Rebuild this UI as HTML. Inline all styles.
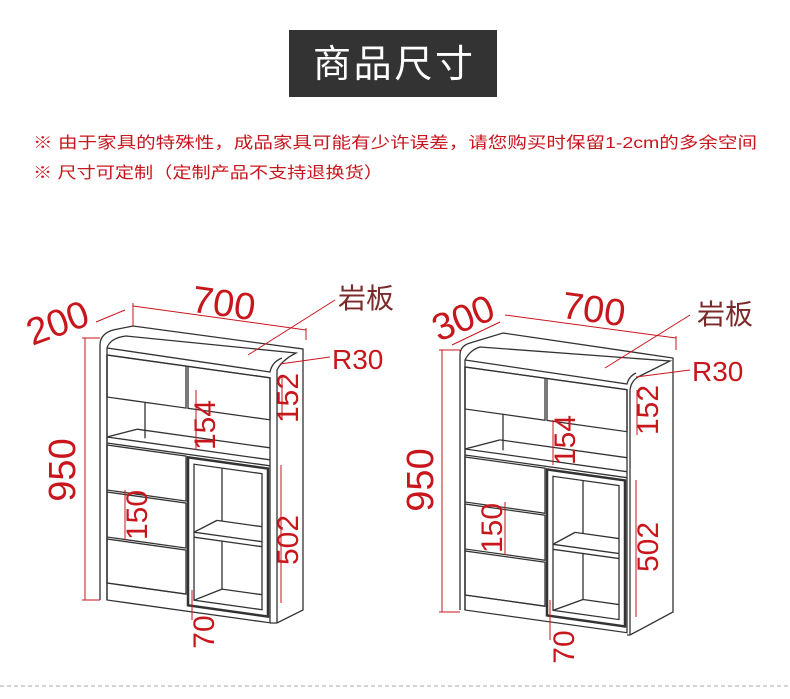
<!DOCTYPE html>
<html><head><meta charset="utf-8"><style>
html,body{margin:0;padding:0;background:#fff;}
svg{display:block;}
</style></head><body>
<svg width="790" height="699" viewBox="0 0 790 699" xmlns="http://www.w3.org/2000/svg">
<rect width="790" height="699" fill="#fff"/>
<rect x="289" y="30" width="208" height="67" fill="#333"/>
<text x="393" y="77" text-anchor="middle" font-family="Liberation Sans, Noto Sans CJK SC, sans-serif" font-size="38" fill="#fff" textLength="160">商品尺寸</text>
<g font-family="Liberation Sans, Noto Sans CJK SC, sans-serif" font-size="16" fill="#c8161d">
<text x="33" y="148" textLength="724" lengthAdjust="spacingAndGlyphs">※ 由于家具的特殊性，成品家具可能有少许误差，请您购买时保留1-2cm的多余空间</text>
<text x="33" y="178" textLength="350" lengthAdjust="spacingAndGlyphs">※ 尺寸可定制（定制产品不支持退换货）</text>
</g>
<line x1="0" y1="686" x2="790" y2="686" stroke="#aaa" stroke-dasharray="4,3"/>

<!-- LEFT CABINET -->
<g fill="none" stroke="#333" stroke-width="1.3">
<path d="M100,600 L100,345 Q100,334 113,330 L133,326 L303,349 L303,610 L277,623 L270,623" fill="#fff"/>
<path d="M107,600 L107,348 Q110,338 126,336 L296,353 Q282,360 277,370 L277,623"/>
<path d="M107,348 L270,372 Q272,362 282,358"/>
<g transform="translate(107,355) skewX(0) matrix(1,0.14,0,1,0,0)">
<rect x="0" y="0" width="163" height="245"/>
<rect x="0" y="0" width="79" height="42"/><rect x="81" y="0" width="82" height="42"/>
<line x1="38" y1="42" x2="38" y2="78"/><line x1="0" y1="82" x2="163" y2="82"/><line x1="0" y1="88" x2="163" y2="88"/>
<line x1="0" y1="82" x2="30" y2="70"/><line x1="30" y1="70" x2="163" y2="70"/>
<rect x="0" y="90" width="79" height="45"/><rect x="0" y="137" width="79" height="45"/><rect x="0" y="184" width="79" height="44"/>
<rect x="81" y="91" width="80" height="148" stroke-width="2.5"/>
<rect x="87" y="97" width="68" height="136"/>
<line x1="87" y1="165" x2="155" y2="165"/><line x1="87" y1="170" x2="155" y2="170"/>
<line x1="87" y1="165" x2="110" y2="150"/><line x1="110" y1="150" x2="155" y2="150"/>
<line x1="115" y1="97" x2="115" y2="150"/><line x1="115" y1="170" x2="115" y2="218"/><line x1="87" y1="233" x2="115" y2="218"/><line x1="115" y1="218" x2="155" y2="218"/>
<line x1="0" y1="228" x2="79" y2="228"/>
</g>
</g>
<!-- RIGHT CABINET -->
<g fill="none" stroke="#333" stroke-width="1.3">
<path d="M460,610 L460,355 Q460,346 470,343 L503,333 L673,358 L673,612 L630,635 L627,635" fill="#fff"/>
<path d="M465,610 L465,360 Q470,350 480,347 L670,361 L638,377 Q630,382 630,392 L630,635"/>
<path d="M465,360 L627,384 Q629,376 636,373"/>
<g transform="translate(465,367) matrix(1,0.14,0,1,0,0)">
<rect x="0" y="0" width="162" height="243"/>
<rect x="0" y="0" width="80" height="42"/><rect x="82" y="0" width="80" height="42"/>
<line x1="38" y1="42" x2="38" y2="78"/><line x1="0" y1="82" x2="162" y2="82"/><line x1="0" y1="88" x2="162" y2="88"/>
<line x1="0" y1="82" x2="35" y2="68"/><line x1="35" y1="68" x2="162" y2="68"/>
<rect x="0" y="90" width="80" height="45"/><rect x="0" y="137" width="80" height="45"/><rect x="0" y="184" width="80" height="44"/>
<rect x="82" y="91" width="78" height="146" stroke-width="2.5"/>
<rect x="88" y="97" width="66" height="134"/>
<line x1="88" y1="165" x2="154" y2="165"/><line x1="88" y1="170" x2="154" y2="170"/>
<line x1="88" y1="165" x2="110" y2="150"/><line x1="110" y1="150" x2="154" y2="150"/>
<line x1="118" y1="97" x2="118" y2="150"/><line x1="118" y1="170" x2="118" y2="216"/><line x1="88" y1="231" x2="118" y2="216"/><line x1="118" y1="216" x2="154" y2="216"/>
<line x1="0" y1="228" x2="80" y2="228"/>
</g>
</g>

<!-- DIMENSIONS LEFT -->
<g stroke="#c8161d" stroke-width="1" fill="none">
<line x1="85" y1="338" x2="85" y2="600"/><line x1="82" y1="338" x2="100" y2="338"/><line x1="82" y1="600" x2="100" y2="600"/>
<line x1="96" y1="322" x2="125" y2="310"/><line x1="133" y1="306" x2="306" y2="330"/><line x1="306" y1="328" x2="306" y2="340"/><line x1="133" y1="303" x2="133" y2="326"/>
<line x1="248" y1="355" x2="335" y2="300"/>
<line x1="280" y1="364" x2="330" y2="357"/>
<line x1="282" y1="375" x2="282" y2="420"/>
<line x1="196" y1="390" x2="196" y2="450"/>
<line x1="125" y1="490" x2="125" y2="540"/>
<line x1="281" y1="465" x2="281" y2="603"/>
<line x1="192" y1="590" x2="192" y2="620"/>
<line x1="460" y1="352" x2="460" y2="350"/>
<line x1="442" y1="350" x2="442" y2="612"/><line x1="439" y1="350" x2="460" y2="350"/><line x1="439" y1="612" x2="460" y2="612"/>
<line x1="452" y1="345" x2="500" y2="322"/><line x1="505" y1="315" x2="676" y2="338"/><line x1="676" y1="336" x2="676" y2="350"/>
<line x1="605" y1="368" x2="690" y2="315"/>
<line x1="636" y1="377" x2="690" y2="370"/>
<line x1="637" y1="390" x2="637" y2="435"/>
<line x1="553" y1="420" x2="553" y2="465"/>
<line x1="505" y1="502" x2="505" y2="555"/>
<line x1="636" y1="480" x2="636" y2="617"/>
<line x1="550" y1="600" x2="550" y2="640"/>
</g>
<g font-family="Liberation Sans, Noto Sans CJK SC, sans-serif" fill="#c8161d" font-size="38">
<text transform="translate(75,470) rotate(-90)" text-anchor="middle">950</text>
<text transform="translate(62,335) rotate(-20)" text-anchor="middle">200</text>
<text transform="translate(222,316) rotate(8)" text-anchor="middle">700</text>
<text transform="translate(433,480) rotate(-90)" text-anchor="middle">950</text>
<text transform="translate(468,330) rotate(-22)" text-anchor="middle">300</text>
<text transform="translate(592,322) rotate(8)" text-anchor="middle">700</text>
</g>
<g font-family="Liberation Sans, Noto Sans CJK SC, sans-serif" fill="#c8161d" font-size="30">
<text transform="translate(298,398) rotate(-90)" text-anchor="middle">152</text>
<text transform="translate(215,425) rotate(-90)" text-anchor="middle">154</text>
<text transform="translate(147,515) rotate(-90)" text-anchor="middle">150</text>
<text transform="translate(298,540) rotate(-90)" text-anchor="middle">502</text>
<text transform="translate(214,632) rotate(-90)" text-anchor="middle">70</text>
<text x="332" y="369" font-size="28">R30</text>
<text transform="translate(658,410) rotate(-90)" text-anchor="middle">152</text>
<text transform="translate(575,440) rotate(-90)" text-anchor="middle">154</text>
<text transform="translate(502,528) rotate(-90)" text-anchor="middle">150</text>
<text transform="translate(658,547) rotate(-90)" text-anchor="middle">502</text>
<text transform="translate(574,647) rotate(-90)" text-anchor="middle">70</text>
<text x="692" y="381" font-size="28">R30</text>
</g>
<g font-family="Liberation Sans, Noto Sans CJK SC, sans-serif" fill="#7a2a2a" font-size="28">
<text x="338" y="308">岩板</text>
<text x="697" y="324">岩板</text>
</g>
</svg>
</body></html>
